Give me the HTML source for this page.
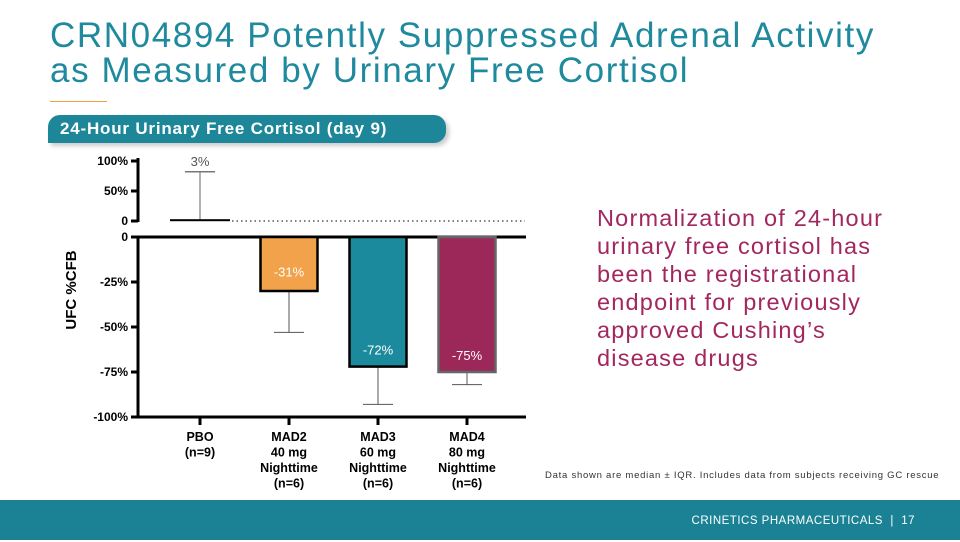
<!DOCTYPE html>
<html><head><meta charset="utf-8"><style>
body{margin:0;width:960px;height:540px;overflow:hidden;background:#fff;font-family:"Liberation Sans",sans-serif;position:relative}
.t{position:absolute;left:50px;top:18px;font-size:35px;line-height:35px;color:#1f8a9d;letter-spacing:1.6px}
.ul{position:absolute;left:50px;top:101px;width:57px;height:1px;background:#f0a040}
.ban{position:absolute;left:48px;top:115px;width:398px;height:28px;background:#1d8799;border-radius:12px 12px 12px 0;color:#fff;font-weight:bold;font-size:17px;line-height:28px;padding-left:12px;box-sizing:border-box;box-shadow:3px 3px 4px #ccc;letter-spacing:0.8px}
.rt{position:absolute;left:597px;top:204px;font-size:23.5px;line-height:28px;color:#a3275f;letter-spacing:1.2px}
.note{position:absolute;left:545px;top:470px;font-size:9.5px;color:#333;letter-spacing:0.75px}
.foot{position:absolute;left:0;top:500px;width:960px;height:40px;background:#1a8294;color:#fff;font-size:11.5px;line-height:42px;text-align:right;padding-right:45px;box-sizing:border-box;letter-spacing:0.5px}
</style></head><body>
<div class="t">CRN04894 Potently Suppressed Adrenal Activity<br>as Measured by Urinary Free Cortisol</div>
<div class="ul"></div>
<div class="ban">24-Hour Urinary Free Cortisol (day 9)</div>
<svg width="960" height="540" style="position:absolute;left:0;top:0" id="ch"></svg>
<div class="rt">Normalization of 24-hour<br>urinary free cortisol has<br>been the registrational<br>endpoint for previously<br>approved Cushing’s<br>disease drugs</div>
<div class="note">Data shown are median ± IQR. Includes data from subjects receiving GC rescue</div>
<div class="foot">CRINETICS PHARMACEUTICALS &nbsp;|&nbsp; 17</div>
<script>
const categories=["PBO","MAD2","MAD3","MAD4"];
const catLines=[["PBO","(n=9)"],["MAD2","40 mg","Nighttime","(n=6)"],["MAD3","60 mg","Nighttime","(n=6)"],["MAD4","80 mg","Nighttime","(n=6)"]];
const medians=[3,-30,-72,-75];
const errEnds=[82,-53,-93,-82];
const labels=["3%","-31%","-72%","-75%"];
const upperTicks=[100,50,0];
const lowerTicks=[0,-25,-50,-75,-100];
const colors=["#ffffff","#f2a24a","#1b8a9c","#9c2759"];
const NS="http://www.w3.org/2000/svg";
const svg=document.getElementById('ch');
function yU(v){return 221-v*0.6;}
function yL(v){return 237-v*1.8;}
function xC(i){return 200+i*89;}
function el(t,a,p){const e=document.createElementNS(NS,t);for(const k in a)e.setAttribute(k,a[k]);(p||svg).appendChild(e);return e;}
let e=el('line',{x1:138,y1:158,x2:138,y2:222,stroke:'#000','stroke-width':3});

e=el('line',{x1:138,y1:236,x2:138,y2:418,stroke:'#000','stroke-width':3});

e=el('line',{x1:137,y1:237,x2:526,y2:237,stroke:'#000','stroke-width':3});

e=el('line',{x1:137,y1:417,x2:526,y2:417,stroke:'#000','stroke-width':3});

e=el('line',{x1:232,y1:221,x2:525,y2:221,stroke:'#555','stroke-width':1.5,'stroke-dasharray':'1.5 3'});

upperTicks.forEach(v=>{const y=yU(v);
 let t=el('line',{x1:131,y1:y,x2:138,y2:y,stroke:'#000','stroke-width':3});
 
 let tx=el('text',{x:128,y:y+4,'text-anchor':'end','font-size':12,'font-weight':'bold'});tx.textContent=v===0?'0':v+'%';
 });
lowerTicks.forEach(v=>{const y=yL(v);
 let t=el('line',{x1:131,y1:y,x2:138,y2:y,stroke:'#000','stroke-width':3});
 
 let tx=el('text',{x:128,y:y+4,'text-anchor':'end','font-size':12,'font-weight':'bold'});tx.textContent=v===0?'0':v+'%';
 });
let yt=el('text',{x:0,y:0,transform:'translate(76,290) rotate(-90)','text-anchor':'middle','font-size':15,'font-weight':'bold'});yt.textContent='UFC %CFB';

categories.forEach((c,i)=>{const x=xC(i),v=medians[i],w=57;
 if(v>=0){
  let ln=el('line',{x1:x,y1:yU(v),x2:x,y2:yU(errEnds[i]),stroke:'#666','stroke-width':1});
  let cp=el('line',{x1:x-15,y1:yU(errEnds[i]),x2:x+15,y2:yU(errEnds[i]),stroke:'#777','stroke-width':1.5});
  let b=el('rect',{x:x-30,y:yU(v),width:60,height:Math.max(2,221-yU(v)),fill:'#000'});
  let l=el('text',{x:x,y:yU(100)+5,'text-anchor':'middle','font-size':13,fill:'#555'});l.textContent=labels[i];
 }else{
  let ln=el('line',{x1:x,y1:yL(v),x2:x,y2:yL(errEnds[i]),stroke:'#555','stroke-width':1});
  let cp=el('line',{x1:x-15,y1:yL(errEnds[i]),x2:x+15,y2:yL(errEnds[i]),stroke:'#555','stroke-width':1});
  let b=el('rect',{x:x-w/2,y:237,width:w,height:yL(v)-237,fill:colors[i],stroke:i===3?'#666':'#000','stroke-width':2.5});
  let l=el('text',{x:x,y:yL(v)-12,'text-anchor':'middle','font-size':13,fill:'#fff'});
  if(i===1)l.setAttribute('y',yL(-22));
  l.textContent=labels[i];
 }
 let tk=el('line',{x1:x,y1:417,x2:x,y2:425,stroke:'#000','stroke-width':3});
 catLines[i].forEach((s,j)=>{let t=el('text',{x:x,y:441+j*15.5,'text-anchor':'middle','font-size':12.5,'font-weight':'bold'});t.textContent=s;
  });
});
</script>
</body></html>
